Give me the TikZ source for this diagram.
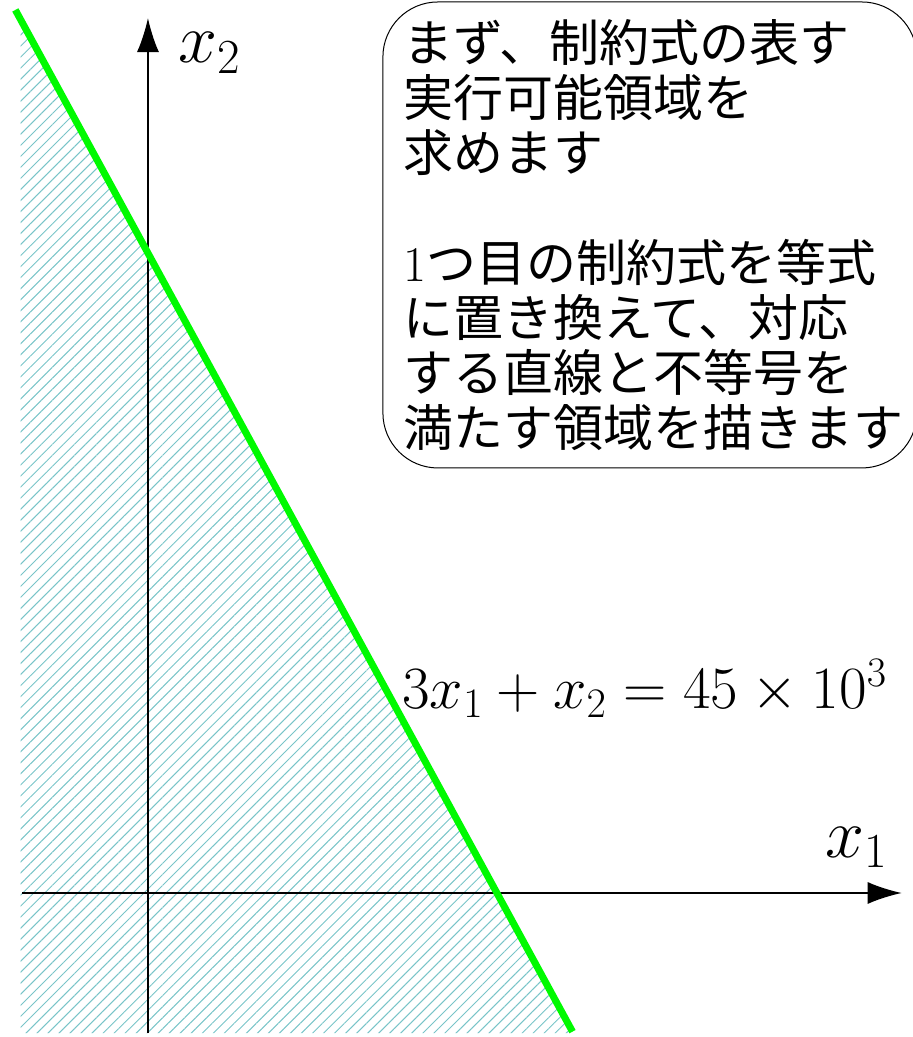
\documentclass[tikz,border=0pt]{standalone}
\usepackage{fix-cm}
\usepackage{amsmath}
\usepackage{amssymb}
\usepackage{fontspec}
\newfontfamily\jpfont{Noto Sans CJK JP}
\usepackage{tikz}
\usetikzlibrary{arrows.meta,patterns.meta}
\definecolor{hatchcolor}{RGB}{120,196,200}
\definecolor{linegreen}{RGB}{0,250,0}

\begin{document}
\begin{tikzpicture}[x=0.409cm, y=0.25cm, >={Latex[length=17pt,width=11pt]},
  axislabel/.style={inner sep=0pt, font=\fontsize{35}{42}\selectfont},
  mathlabel/.style={inner sep=0pt, font=\fontsize{30}{36}\selectfont},
  msgtext/.style={inner sep=0pt, align=left, font=\jpfont\fontsize{25}{27.5}\selectfont}]
  \useasboundingbox (-6.36,-10.127) rectangle (32.875,62.8);
  \pattern[pattern={Lines[angle=45,distance=3.9pt,line width=0.5pt]}, pattern color=hatchcolor] (-5.47,-9.85) -- (18.28,-9.85) -- (-5.47,61.41) -- cycle;
  \draw[->, line width=0.8pt] (-5.41,0) -- (32.4,0);
  \draw[->, line width=0.8pt] (0,-9.85) -- (0,61.53);
  \node[axislabel, anchor=base east] (xlab) at (31.84,2.53) {$x_1$};
  \node[axislabel, anchor=base west] (ylab) at (1.29,58.37) {$x_2$};
  \draw[linegreen, line width=3.5pt] (-5.7,62.1) -- (18.25,-9.75);
  \node[mathlabel, anchor=base west] (eq) at (10.92,13.0) {$3x_1 + x_2 = 45 \times 10^3$};
  \draw[line width=0.5pt, rounded corners=27.5pt] (10.10,29.89) rectangle (33.05,62.66);
  \node[msgtext, anchor=north west] (msg) at (10.96,61.46) {まず、制約式の表す\\実行可能領域を\\求めます\\[27.5pt]{\rmfamily 1}つ目の制約式を等式\\に置き換えて、対応\\する直線と不等号を\\満たす領域を描きます};
\end{tikzpicture}
\end{document}
